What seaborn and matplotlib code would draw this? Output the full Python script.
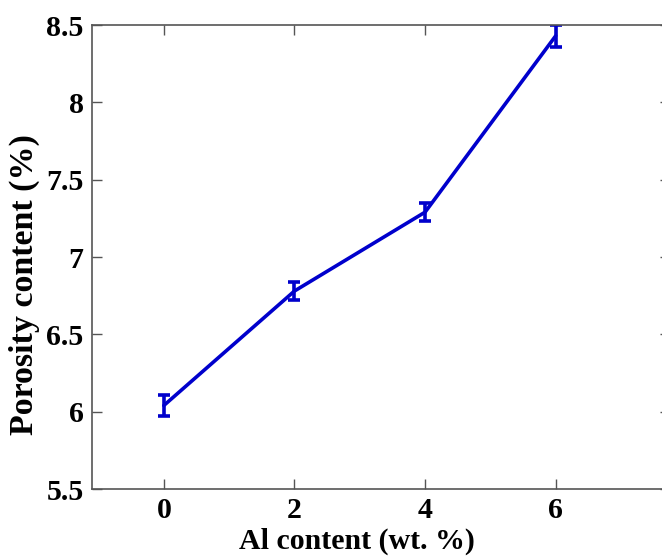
import seaborn as sns
import matplotlib
matplotlib.use("Agg")
import matplotlib.pyplot as plt
import pandas as pd

# data
al_content = [0, 2, 4, 6]
porosity = [6.04, 6.78, 7.29, 8.43]
porosity_err = [0.07, 0.06, 0.06, 0.07]

df = pd.DataFrame({"al": al_content, "porosity": porosity, "err": porosity_err})

sns.set_style("ticks")
plt.rcParams["font.family"] = ["Liberation Serif", "DejaVu Serif"]
plt.rcParams["font.weight"] = "bold"
plt.rcParams["text.color"] = "black"
plt.rcParams["xtick.labelcolor"] = "black"
plt.rcParams["ytick.labelcolor"] = "black"
plt.rcParams["axes.labelcolor"] = "black"

fig = plt.figure(figsize=(6.62, 5.58), dpi=100)
# right spine sits just past the image edge, as in the source
ax = fig.add_axes([92 / 662, 69 / 558, 578 / 662, 464 / 558])

blue = "#0000cc"
sns.lineplot(data=df, x="al", y="porosity", color=blue, linewidth=2.6, ax=ax)
ax.errorbar(df["al"], df["porosity"], yerr=df["err"], fmt="none",
            ecolor=blue, elinewidth=2.6, capsize=4, capthick=2.6)

ax.set_xlim(-1.1, 7.75)
ax.set_ylim(5.5, 8.5)
ax.set_xticks([0, 2, 4, 6])
ax.set_yticks([5.5, 6, 6.5, 7, 7.5, 8, 8.5])
ax.set_yticklabels(["5.5", "6", "6.5", "7", "7.5", "8", "8.5"])
ax.tick_params(direction="in", top=True, right=True, length=7, width=1,
               color="#555555", labelsize=21.5)
ax.tick_params(axis="x", pad=6)
ax.tick_params(axis="y", pad=6)
for lab in ax.get_xticklabels() + ax.get_yticklabels():
    lab.set_fontweight("bold")
for s in ax.spines.values():
    s.set_color("#555555")
    s.set_linewidth(1.2)

ax.set_xlabel("Al content (wt. %)", fontsize=21.5, fontweight="bold")
ax.set_ylabel("Porosity content (%)", fontsize=24.5, fontweight="bold")
ax.xaxis.set_label_coords(0.458, -0.084)
ax.yaxis.set_label_coords(-0.09, 0.44)

fig.savefig("out.png", dpi=100)
